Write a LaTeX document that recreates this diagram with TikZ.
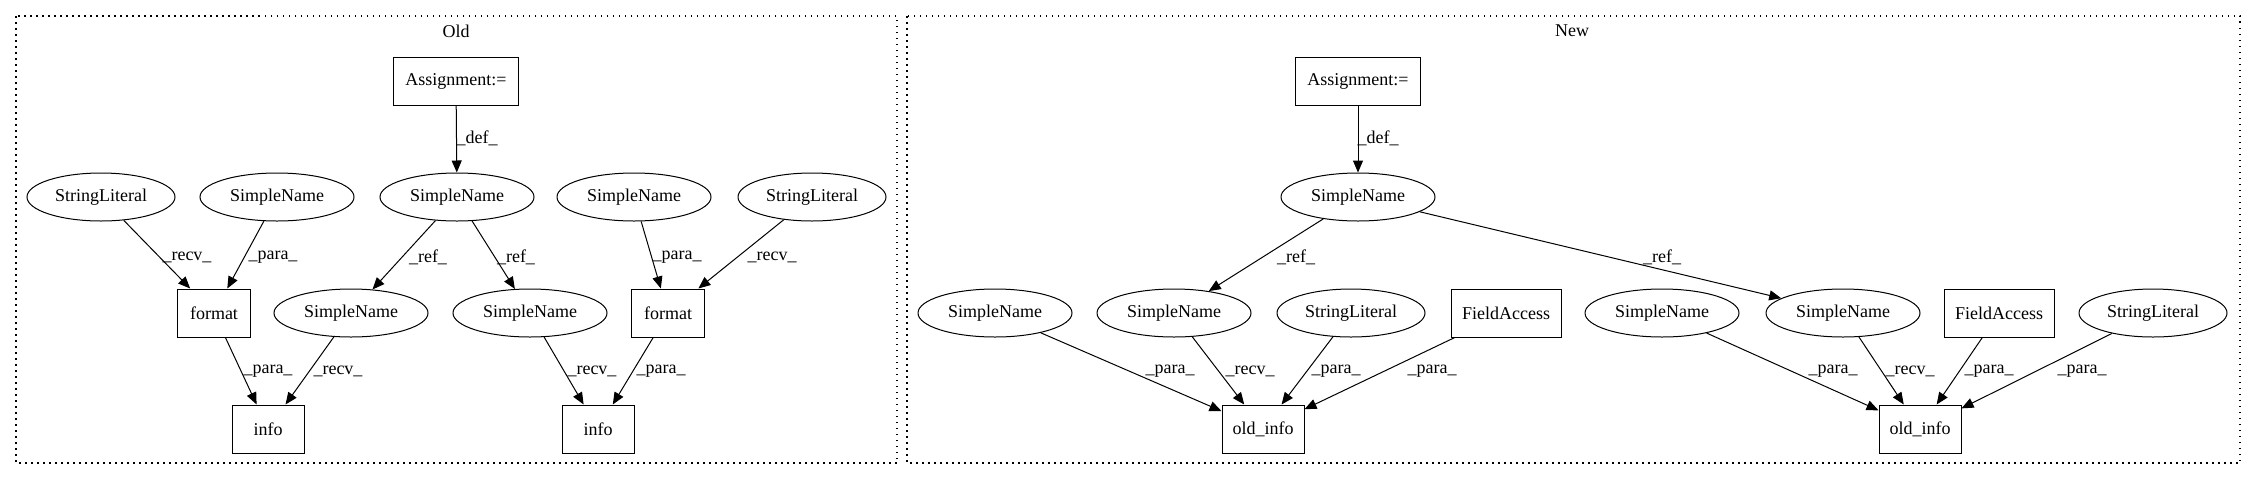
\documentclass[tikz,border=0pt]{standalone}
\usepackage{fontspec}
\setmainfont{Liberation Serif}
\usetikzlibrary{arrows.meta,shapes.geometric}
\begin{document}
\begin{tikzpicture}[x=1pt,y=-1pt,
  every node/.style={font=\fontsize{18}{21}\selectfont},
  box/.style={draw, rectangle, line width=1pt, minimum height=48pt, inner sep=0pt},
  ell/.style={draw, ellipse, line width=1pt, minimum width=154pt, minimum height=48pt, inner sep=0pt},
  sl/.style={ell, minimum width=148pt},
  lbl/.style={inner sep=0pt},
  arr/.style={-{Triangle[length=12pt,width=10pt]}, line width=1pt},
  cluster/.style={draw, dash pattern=on 1.5pt off 4.5pt, line width=1.2pt}]
\useasboundingbox (0,0) rectangle (2248,480);
% clusters
\draw[cluster] (16,16) rectangle (897,463);
\draw[cluster] (907,16) rectangle (2240,463);
\node[lbl] (tOld) at (456,31) {Old};
\node[lbl] (tNew) at (1572,31) {New};
% Old nodes
\node[box, minimum width=125pt] (o_asg) at (456,81) {Assignment:=};
\node[ell] (o_sn) at (457,197) {SimpleName};
\node[sl] (o_sl1) at (101,197) {StringLiteral};
\node[ell] (o_sn1) at (277,197) {SimpleName};
\node[ell] (o_sn2) at (634,197) {SimpleName};
\node[sl] (o_sl2) at (812,197) {StringLiteral};
\node[box, minimum width=73pt] (o_f1) at (214,313) {format};
\node[ell] (o_snA) at (351,313) {SimpleName};
\node[ell] (o_snB) at (530,313) {SimpleName};
\node[box, minimum width=73pt] (o_f2) at (668,313) {format};
\node[box, minimum width=72pt] (o_i1) at (268,429) {info};
\node[box, minimum width=72pt] (o_i2) at (598,429) {info};
% Old edges
\draw[arr] (o_asg) -- (o_sn);
\draw[arr] (o_sl1) -- (o_f1);
\draw[arr] (o_sn1) -- (o_f1);
\draw[arr] (o_sn) -- (o_snA);
\draw[arr] (o_sn) -- (o_snB);
\draw[arr] (o_sn2) -- (o_f2);
\draw[arr] (o_sl2) -- (o_f2);
\draw[arr] (o_f1) -- (o_i1);
\draw[arr] (o_snA) -- (o_i1);
\draw[arr] (o_snB) -- (o_i2);
\draw[arr] (o_f2) -- (o_i2);
% Old labels
\node[lbl] (l1) at (477,138) {\_def\_};
\node[lbl] (l2) at (187,257) {\_recv\_};
\node[lbl] (l3) at (273,257) {\_para\_};
\node[lbl] (l4) at (428,257) {\_ref\_};
\node[lbl] (l5) at (516,257) {\_ref\_};
\node[lbl] (l6) at (677,257) {\_para\_};
\node[lbl] (l7) at (772,257) {\_recv\_};
\node[lbl] (l8) at (268,371) {\_para\_};
\node[lbl] (l9) at (338,371) {\_recv\_};
\node[lbl] (l10) at (592,371) {\_recv\_};
\node[lbl] (l11) at (661,371) {\_para\_};
% New nodes
\node[box, minimum width=125pt] (n_asg) at (1358,81) {Assignment:=};
\node[ell] (n_sn) at (1358,197) {SimpleName};
\node[ell] (n_a) at (995,313) {SimpleName};
\node[ell] (n_b) at (1174,313) {SimpleName};
\node[sl] (n_c) at (1351,313) {StringLiteral};
\node[box, minimum width=110pt] (n_d) at (1506,313) {FieldAccess};
\node[ell] (n_e) at (1662,313) {SimpleName};
\node[ell] (n_f) at (1843,313) {SimpleName};
\node[box, minimum width=110pt] (n_g) at (1999,313) {FieldAccess};
\node[sl] (n_h) at (2153,313) {StringLiteral};
\node[box, minimum width=82pt] (n_o1) at (1263,429) {old\_info};
\node[box, minimum width=82pt] (n_o2) at (1920,429) {old\_info};
% New edges
\draw[arr] (n_asg) -- (n_sn);
\draw[arr] (n_sn) -- (n_b);
\draw[arr] (n_sn) -- (n_f);
\draw[arr] (n_a) -- (n_o1);
\draw[arr] (n_b) -- (n_o1);
\draw[arr] (n_c) -- (n_o1);
\draw[arr] (n_d) -- (n_o1);
\draw[arr] (n_e) -- (n_o2);
\draw[arr] (n_f) -- (n_o2);
\draw[arr] (n_g) -- (n_o2);
\draw[arr] (n_h) -- (n_o2);
% New labels
\node[lbl] (m1) at (1378,138) {\_def\_};
\node[lbl] (m2) at (1296,257) {\_ref\_};
\node[lbl] (m3) at (1662,257) {\_ref\_};
\node[lbl] (m4) at (1170,371) {\_para\_};
\node[lbl] (m5) at (1250,371) {\_recv\_};
\node[lbl] (m6) at (1336,371) {\_para\_};
\node[lbl] (m7) at (1432,371) {\_para\_};
\node[lbl] (m8) at (1833,371) {\_para\_};
\node[lbl] (m9) at (1910,371) {\_recv\_};
\node[lbl] (m10) at (1989,371) {\_para\_};
\node[lbl] (m11) at (2082,371) {\_para\_};
\end{tikzpicture}
\end{document}
